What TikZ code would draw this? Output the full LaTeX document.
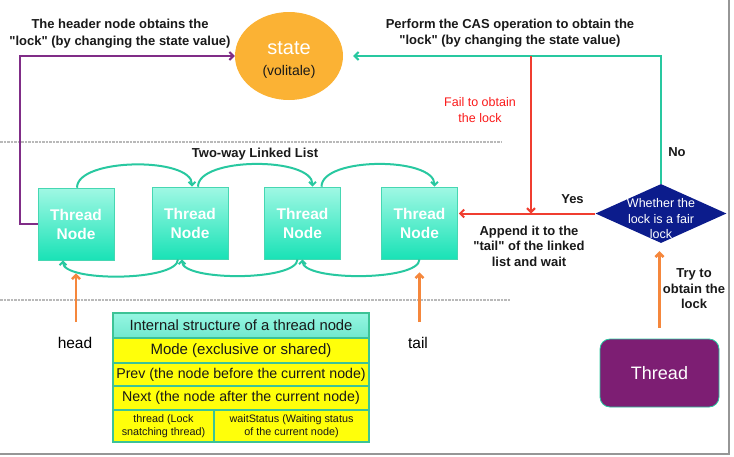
\documentclass[tikz,border=0pt]{standalone}
\usepackage{fontspec}
\setmainfont{Liberation Sans}[Ligatures=TeXOff]
\usetikzlibrary{arrows.meta,shapes.geometric,calc}
\definecolor{stateorange}{RGB}{251,178,52}
\definecolor{tealc}{RGB}{40,200,160}
\definecolor{redc}{RGB}{240,62,48}
\definecolor{redtext}{RGB}{250,25,25}
\definecolor{purpc}{RGB}{128,45,135}
\definecolor{orangec}{RGB}{245,135,60}
\definecolor{navyc}{RGB}{12,28,140}
\definecolor{tpurple}{RGB}{125,30,115}
\definecolor{ttop}{RGB}{160,248,228}
\definecolor{tbot}{RGB}{25,226,182}
\definecolor{tnb}{RGB}{70,215,178}
\definecolor{tabb}{RGB}{60,195,150}
\definecolor{tyellow}{RGB}{255,255,10}
\definecolor{thtop}{RGB}{150,246,226}
\definecolor{thbot}{RGB}{112,232,206}
\definecolor{txt}{RGB}{25,25,25}
\definecolor{framec}{RGB}{150,150,150}
\definecolor{dashc}{RGB}{185,185,185}
\begin{document}
\begin{tikzpicture}[x=1pt,y=-1pt,
  tip/.style={-{Straight Barb[length=4pt,width=8pt]}},
  tnode/.style={draw=tnb, line width=0.6pt, top color=ttop, bottom color=tbot,
    minimum width=76pt, minimum height=72pt, inner sep=0pt, text=white,
    font=\bfseries\fontsize{15.5}{19}\selectfont, align=center},
  lbl/.style={font=\bfseries\fontsize{13}{16.5}\selectfont, align=center, text=txt},
  purpline/.style={tip, draw=purpc, line width=2pt},
  tealline/.style={tip, draw=tealc, line width=2pt},
  redline/.style={tip, draw=redc, line width=2pt},
  orline/.style={tip, draw=orangec, line width=2.6pt},
  arcline/.style={-{Straight Barb[length=3.5pt,width=7pt]}, draw=tealc, line width=2pt},
  cell/.style={draw=tabb, line width=1.2pt, fill=tyellow, inner sep=0pt, outer sep=0pt,
    anchor=north west, align=center, text=txt},
  dashl/.style={draw=dashc, line width=1.3pt, dash pattern=on 2.5pt off 1pt},
  framel/.style={draw=framec, line width=1.6pt}
]
\useasboundingbox (0,0) rectangle (734,456);

% frame and separators
\draw[framel] (0,454) -- (729,454) -- (729,0);
\draw[dashl] (0,142) -- (502,142);
\draw[dashl] (0,300) -- (510,300);

% state
\node[ellipse, fill=stateorange, minimum width=108pt, minimum height=88pt, inner sep=0pt] (state) at (289,56) {};
\node[align=center, font=\fontsize{14}{21}\selectfont, text=txt] (statetext) at (289,60)
  {{\fontsize{20}{21}\selectfont\color{white}state}\\(volitale)};

% thread nodes
\node[tnode] (n1) at (76,224) {Thread\\Node};
\node[tnode] (n2) at (190,223) {Thread\\Node};
\node[tnode] (n3) at (302.5,223) {Thread\\Node};
\node[tnode] (n4) at (419.5,223) {Thread\\Node};

% diamond
\node[diamond, fill=navyc, minimum width=131pt, minimum height=59pt, inner sep=0pt] (dia) at (661,213.5) {};
\node[align=center, text=white, font=\fontsize{12.5}{15.5}\selectfont] (diatext) at (661,219) {Whether the\\lock is a fair\\lock};

% thread box
\node[rounded corners=10pt, fill=tpurple, draw=tealc, line width=0.8pt, minimum width=119pt,
  minimum height=68pt, text=white, font=\fontsize{18}{20}\selectfont] (thr) at (659.5,373) {Thread};

% labels
\node[lbl] (lhead) at (120,33.5) {The header node obtains the\\"lock" (by changing the state value)};
\node[lbl] (lcas) at (510,33) {Perform the CAS operation to obtain the\\"lock" (by changing the state value)};
\node[align=center, text=redtext, font=\fontsize{12.5}{16}\selectfont] (lfail) at (480,110) {Fail to obtain\\the lock};
\node[lbl] (lno) at (677,152) {No};
\node[lbl] (lyes) at (572.5,199) {Yes};
\node[lbl, font=\bfseries\fontsize{13}{15.5}\selectfont] (lapp) at (529,246) {Append it to the\\"tail" of the linked\\list and wait};
\node[lbl, font=\bfseries\fontsize{13}{15.5}\selectfont] (ltry) at (694,289) {Try to\\obtain the\\lock};
\node[lbl] (ltwo) at (255,154) {Two-way Linked List};
\node[font=\fontsize{15.5}{18}\selectfont, text=black] (head) at (75,343) {head};
\node[font=\fontsize{15.5}{18}\selectfont, text=black] (tail) at (418,343) {tail};

% connectors
\draw[purpline] (n1.west) -- ++(-18,0) |- (state.west);
\draw[tealline] (dia.north) |- ([xshift=10pt]state.east);
\coordinate (split) at (531,56);
\draw[redline] (split) -- (split |- dia.west);
\draw[redline, shorten >=1pt] (dia.west) -- (dia.west -| n4.east);
\draw[orline, shorten <=11pt, shorten >=8pt] (thr.north) -- (thr.north |- dia.south);
\coordinate (headarr) at (76,322);
\coordinate (tailarr) at (419.5,322);
\draw[orline, shorten >=13pt] (headarr) -- (headarr |- n1.south);
\draw[orline, shorten >=13pt] (tailarr) -- (tailarr |- n4.south);

% linked list arcs
\draw[arcline] ($(n1.north)+(1,0)$) .. controls +(0,-30) and +(0,-30) .. ($(n2.north)+(2,0)$);
\draw[arcline] ($(n2.north)+(8,0)$) .. controls +(0,-30) and +(0,-30) .. ($(n3.north)+(10,0)$);
\draw[arcline] ($(n3.north)+(19,0)$) .. controls +(0,-30) and +(0,-30) .. ($(n4.north)+(15,0)$);
\draw[arcline] ($(n2.south)+(-12,0)$) .. controls +(0,22) and +(0,22) .. ($(n1.south)+(-13,0)$);
\draw[arcline] ($(n3.south)+(-5,0)$) .. controls +(0,22) and +(0,22) .. ($(n2.south)+(-8,0)$);
\draw[arcline] ($(n4.south)+(0,0)$) .. controls +(0,22) and +(0,22) .. ($(n3.south)+(0,0)$);

% table
\node[cell, top color=thtop, bottom color=thbot, minimum width=256pt, minimum height=25pt,
  font=\fontsize{14.8}{17}\selectfont] (th) at (113,313) {Internal structure of a thread node};
\node[cell, minimum width=256pt, minimum height=25pt, font=\fontsize{15}{17}\selectfont] (tm) at (113,338) {Mode (exclusive or shared)};
\node[cell, minimum width=256pt, minimum height=23pt, font=\fontsize{14.2}{17}\selectfont] (tp) at (113,363) {Prev (the node before the current node)};
\node[cell, minimum width=256pt, minimum height=24pt, font=\fontsize{14.2}{17}\selectfont] (tn) at (113,386) {Next (the node after the current node)};
\node[cell, minimum width=101pt, minimum height=32pt, font=\fontsize{10.8}{13}\selectfont] (tt) at (113,410) {thread (Lock\\snatching thread)};
\node[cell, minimum width=155pt, minimum height=32pt, font=\fontsize{10.8}{13}\selectfont] (tw) at (214,410) {waitStatus (Waiting status\\of the current node)};
\end{tikzpicture}
\end{document}
